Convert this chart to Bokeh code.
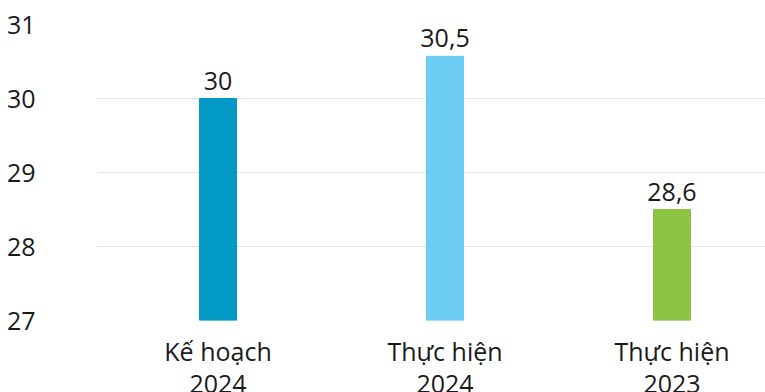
from bokeh.plotting import figure
from bokeh.models import Range1d, FixedTicker, ColumnDataSource
from bokeh.core.properties import value
from bokeh.embed import file_html
from bokeh.resources import INLINE

categories = ["Kế hoạch\n2024", "Thực hiện\n2024", "Thực hiện\n2023"]
values = [30.0, 30.57, 28.5]
value_labels = ["30", "30,5", "28,6"]
colors = ["#0399C5", "#6BCEF2", "#8CC342"]
y_ticks = [27, 28, 29, 30, 31]

FONT = "Open Sans"
xs = list(range(len(categories)))

src = ColumnDataSource(dict(x=xs, top=values, lab=value_labels, color=colors))

p = figure(width=765, height=392, frame_width=668, frame_height=296,
           x_range=Range1d(-0.531, 2.412), y_range=Range1d(27, 31),
           output_backend="svg", toolbar_location=None, tools="",
           min_border_left=97, min_border_right=0, min_border_top=24,
           min_border_bottom=72)
p.outline_line_color = None
p.background_fill_color = "white"
p.border_fill_color = "white"

p.vbar(x="x", top="top", bottom=27, width=0.163, color="color", source=src)
p.text(x="x", y="top", text="lab", source=src, text_align="center",
       text_baseline="bottom", y_offset=-9, text_font=value(FONT),
       text_font_size="25px", text_color="#1a1a1a")

p.xgrid.grid_line_color = None
p.ygrid.grid_line_color = "#e3e3e3"
p.ygrid.grid_line_width = 1
p.ygrid.ticker = FixedTicker(ticks=y_ticks)

p.yaxis.ticker = FixedTicker(ticks=y_ticks)
p.yaxis.axis_line_color = None
p.yaxis.major_tick_line_color = None
p.yaxis.minor_tick_line_color = None
p.yaxis.major_label_standoff = 56
p.yaxis.major_label_text_font = FONT
p.yaxis.major_label_text_font_size = "25px"
p.yaxis.major_label_text_color = "#1a1a1a"

p.xaxis.ticker = FixedTicker(ticks=xs)
p.xaxis.major_label_overrides = {i: c for i, c in zip(xs, categories)}
p.xaxis.axis_line_color = None
p.xaxis.major_tick_line_color = None
p.xaxis.minor_tick_line_color = None
p.xaxis.major_label_standoff = 7
p.xaxis.major_label_text_font = FONT
p.xaxis.major_label_text_font_size = "25px"
p.xaxis.major_label_text_color = "#1a1a1a"
p.xaxis.major_label_text_line_height = 0.95

open("out.html", "w").write(file_html(p, INLINE))
